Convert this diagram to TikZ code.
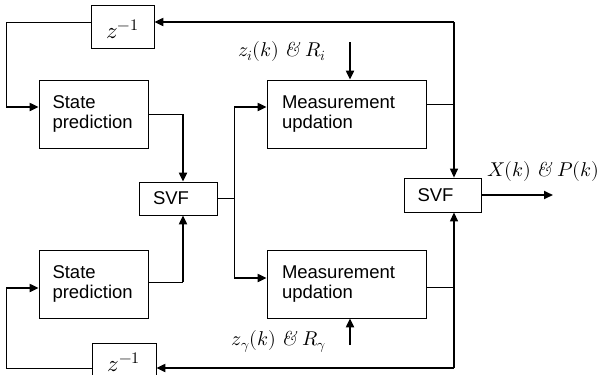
\documentclass[tikz,border=0pt]{standalone}
\usepackage{fontspec}
\setmainfont{Liberation Sans}
\newfontfamily\lmserif{Latin Modern Roman}
\usepackage{unicode-math}
\setmathfont{Latin Modern Math}
\usetikzlibrary{arrows.meta}
\newcommand{\itamp}{\mbox{\lmserif\itshape\&}}
\begin{document}
\begin{tikzpicture}[x=1pt,y=-1pt,
  blk/.style={draw,line width=0.8pt,rectangle,inner sep=0pt,font=\fontsize{18.5}{20}\selectfont},
  thinl/.style={line width=0.8pt},
  midl/.style={line width=1.2pt},
  thickl/.style={line width=2pt},
  arr/.style={-{Triangle[length=9pt,width=8pt]}},
  lbl/.style={inner sep=0pt,font=\fontsize{20}{22}\selectfont},
  zlbl/.style={inner sep=0pt,font=\fontsize{23}{24}\selectfont}]
\clip (0,0) rectangle (603,375);
\fill[white] (0,0) rectangle (603,375);
% boxes
\node[blk,minimum width=63pt,minimum height=43pt] (zinv1) at (122.5,26.5) {};
\node[zlbl] at (122.5,29) {$z^{-1}$};
\node[blk,minimum width=64pt,minimum height=43pt] (zinv2) at (124,364.5) {};
\node[zlbl] at (124,362) {$z^{-1}$};
\node[blk,minimum width=109pt,minimum height=68pt,align=left] (sp1) at (93.5,114) {\makebox[82pt][l]{State}\\\makebox[82pt][l]{prediction}};
\node[blk,minimum width=109pt,minimum height=68pt,align=left] (sp2) at (93.5,284) {\makebox[82pt][l]{State}\\\makebox[82pt][l]{prediction}};
\node[blk,minimum width=78pt,minimum height=33pt] (svf1) at (178,198.5) {\makebox[50pt][l]{SVF}};
\node[blk,minimum width=159pt,minimum height=68pt,align=left] (mu1) at (346.5,114) {\makebox[129pt][l]{Measurement}\\\makebox[129pt][l]{updation}};
\node[blk,minimum width=159pt,minimum height=68pt,align=left] (mu2) at (346.5,284) {\makebox[129pt][l]{Measurement}\\\makebox[129pt][l]{updation}};
\node[blk,minimum width=77pt,minimum height=34pt] (svf2) at (442.5,195) {\makebox[50pt][l]{SVF}};
% coordinates
\coordinate (tl) at (6,22);
\coordinate (bl) at (6,368);
\coordinate (tr) at (454,22);
\coordinate (br) at (454,368);
\coordinate (c1) at (183,114);
\coordinate (c2) at (183,282);
\coordinate (s1) at (234,198.5);
\coordinate (s1t) at (234,107);
\coordinate (s1b) at (234,278);
\coordinate (m1) at (454,104);
\coordinate (m2) at (454,287);
\coordinate (in1) at (350,42);
\coordinate (in2) at (350,345);
\coordinate (out) at (553,195);
% left loops
\draw[thinl] (zinv1.west |- tl) -- (tl) -- (6,107);
\draw[thickl,arr] (6,107) -- (sp1.west |- 0,107);
\draw[thinl] (zinv2.west |- bl) -- (bl) -- (6,288);
\draw[thickl,arr] (6,288) -- (sp2.west |- 0,288);
% state prediction to SVF
\draw[thinl] (sp1.east |- c1) -- (c1);
\draw[thickl,arr] (c1) -- (svf1.north -| c1);
\draw[thinl] (sp2.east |- c2) -- (c2);
\draw[thickl,arr] (c2) -- (svf1.south -| c2);
% SVF to measurement
\draw[thinl] (svf1.east |- s1) -- (s1);
\draw[thinl] (s1t) -- (s1b);
\draw[thickl,arr] (s1t) -- (mu1.west |- s1t);
\draw[thickl,arr] (s1b) -- (mu2.west |- s1b);
% measurement inputs
\draw[thickl,arr] (in1) -- (mu1.north -| in1);
\draw[thickl,arr] (in2) -- (mu2.south -| in2);
\node[lbl,anchor=base east] at (326,56) {$z_{i}(k)\;\itamp\;R_{i}$};
\node[lbl,anchor=base east] at (326,345) {$z_{\gamma}(k)\;\itamp\;R_{\gamma}$};
% measurement outputs
\draw[thinl] (mu1.east |- m1) -- (m1);
\draw[thinl] (mu2.east |- m2) -- (m2);
\draw[midl,arr] (tr) -- (svf2.north -| tr);
\draw[midl,arr] (br) -- (svf2.south -| br);
% feedback
\draw[thickl,arr] (tr) -- (zinv1.east |- tr);
\draw[thickl,arr] (br) -- (zinv2.east |- br);
% output
\draw[thickl,arr] (svf2.east) -- (out);
\node[lbl,anchor=base west] at (487,176) {$X(k)\;\itamp\;P(k)$};
\end{tikzpicture}
\end{document}
